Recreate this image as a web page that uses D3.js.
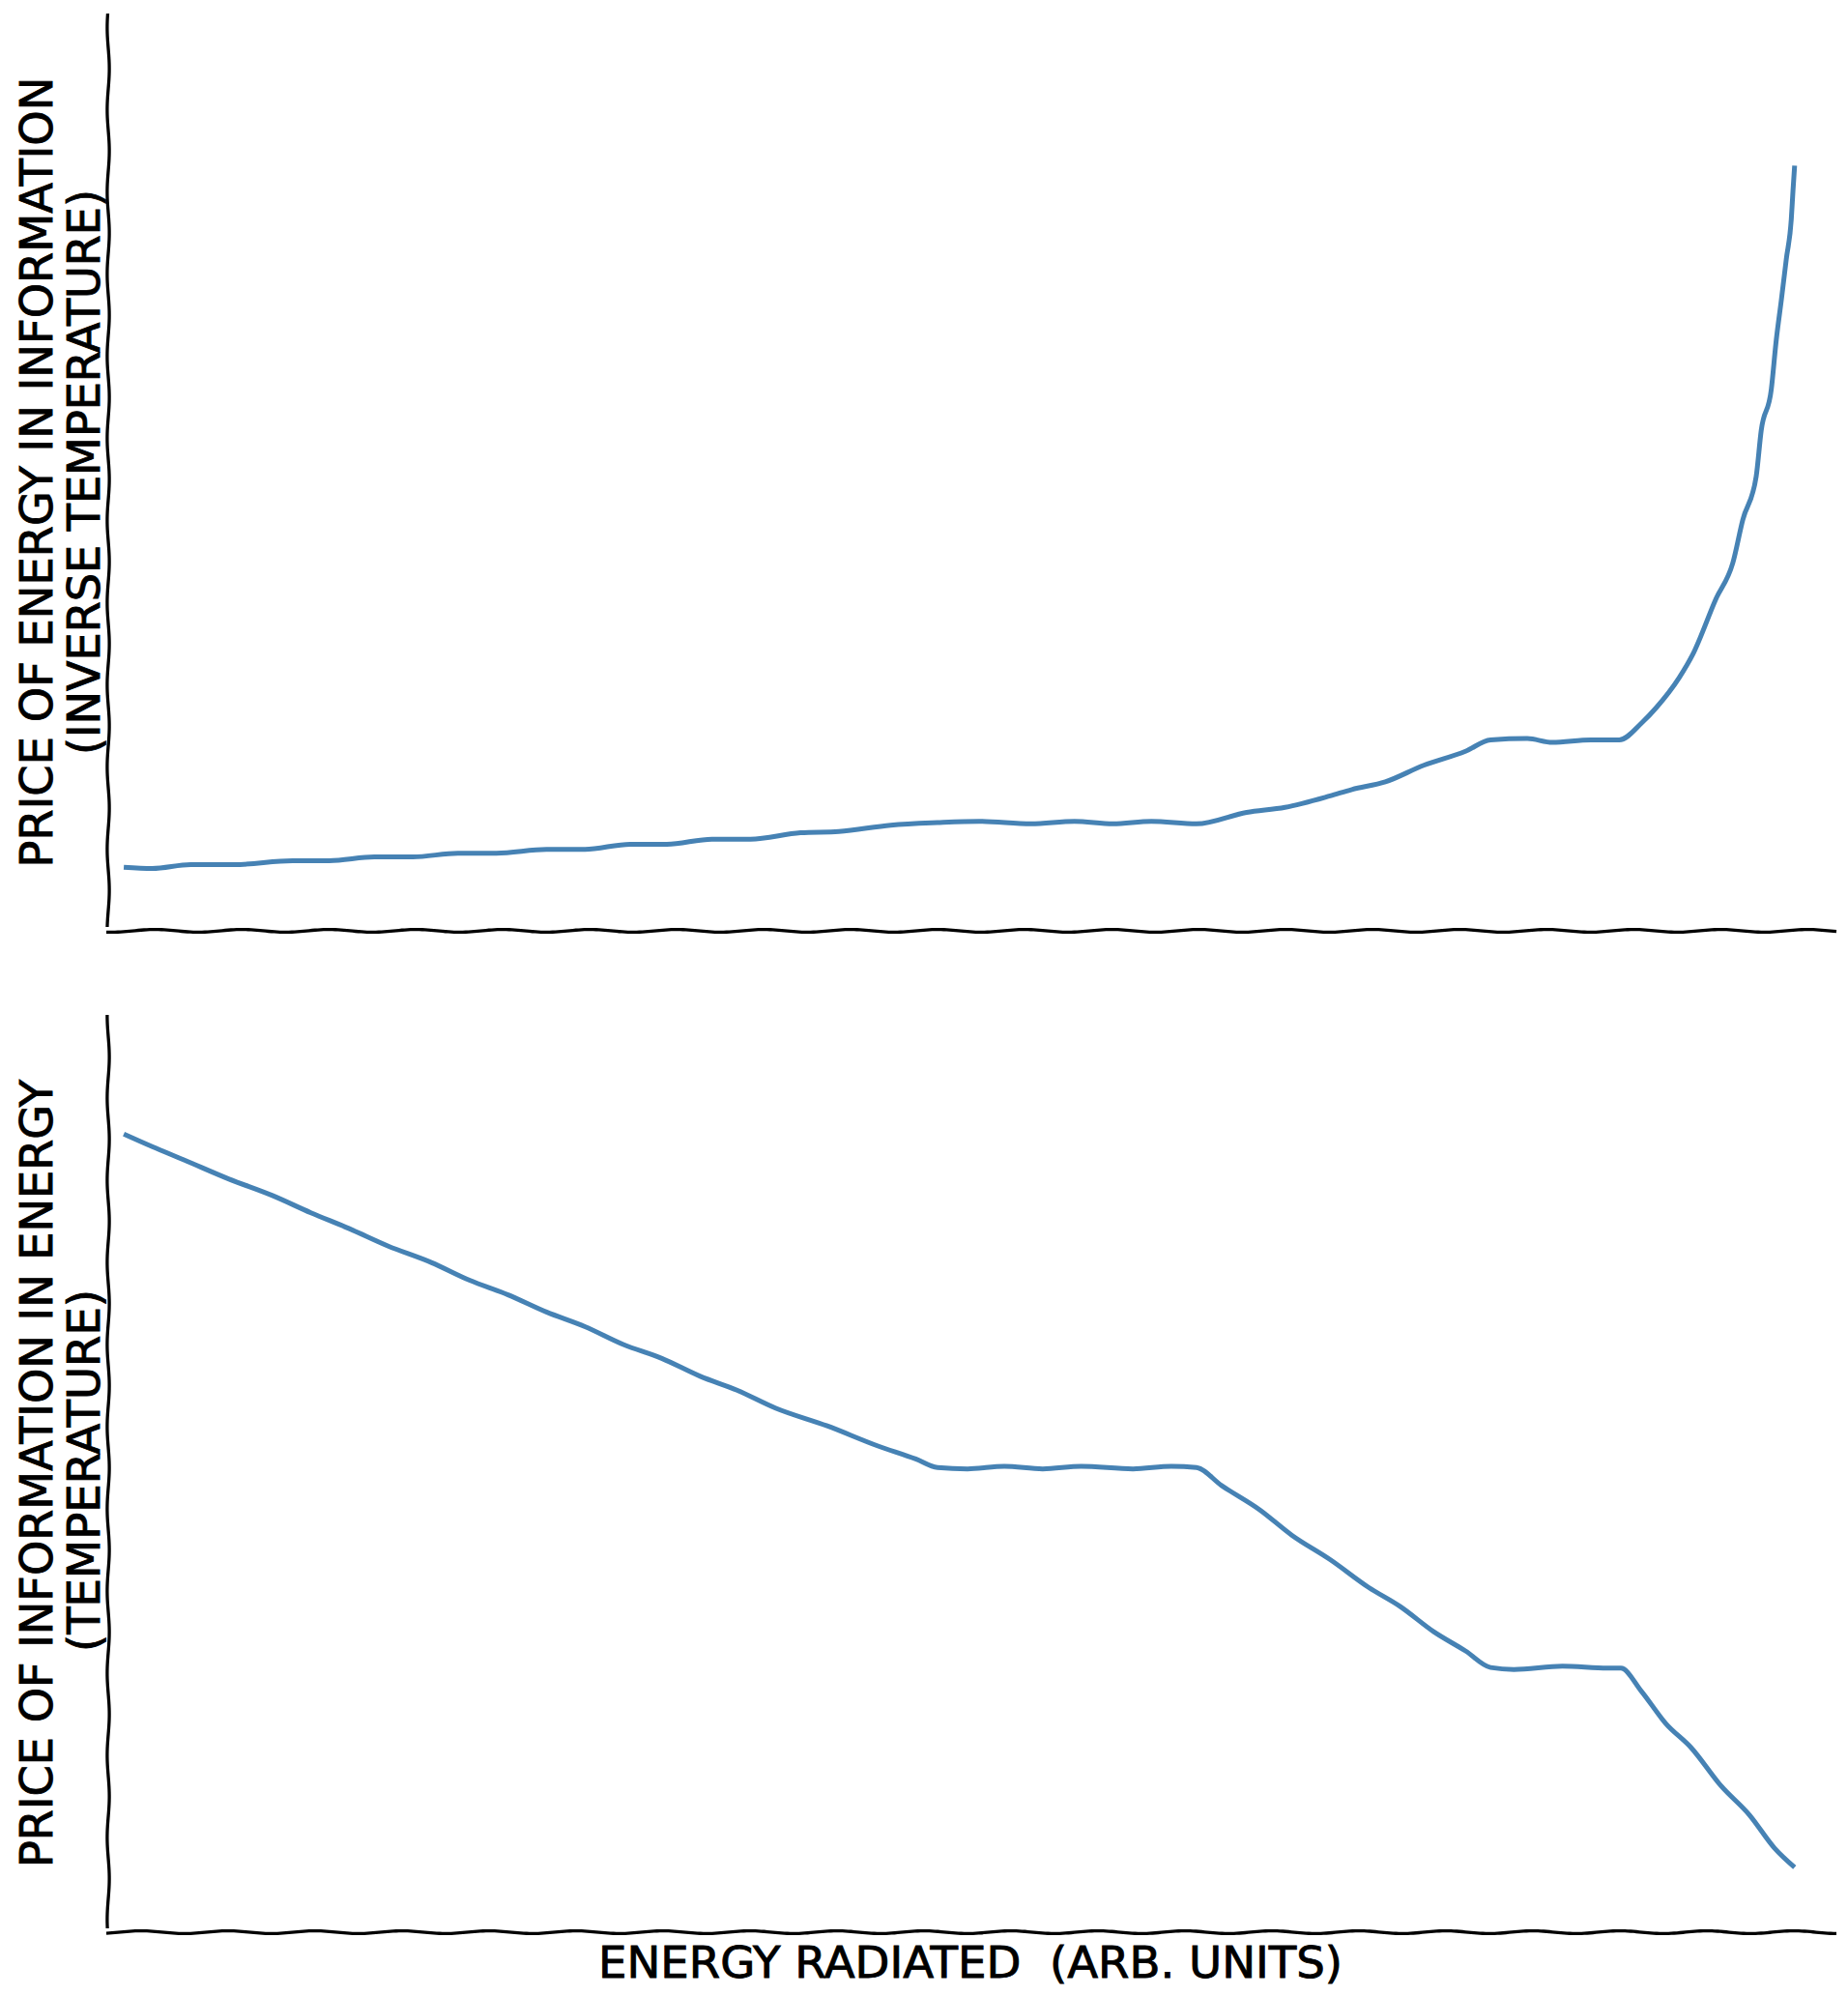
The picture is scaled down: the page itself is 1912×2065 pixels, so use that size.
<!DOCTYPE html>
<html>
<head>
<meta charset="utf-8">
<script src="https://cdn.jsdelivr.net/npm/d3@7"></script>
<style>
  body { margin: 0; background: #ffffff; }
  text { font-family: "DejaVu Sans", "Liberation Sans", sans-serif; fill: #000; stroke: #000; stroke-width: 0.9px; }
</style>
</head>
<body>
<svg id="chart" width="1912" height="2065"></svg>
<script>
// ---------- DATA ----------
// Energy radiated (arbitrary units) for the upper panel
const energyTop = [0, 1.7, 4.0, 6.6, 10.1, 12.3, 15.0, 17.3, 20.0, 22.3, 25.3, 27.6, 30.3, 32.5, 35.2, 37.5,
  40.5, 42.8, 45.9, 48.7, 51.2, 54.3, 56.9, 59.2, 61.5, 64.2, 67.2, 69.5, 72.2, 73.5, 75.5, 77.8, 80.3, 81.8,
  84.0, 85.5, 87.8, 89.5, 90.9, 91.7, 93.1, 93.9, 95.3, 96.3, 96.9, 97.7, 98.0, 98.6, 98.9, 99.2, 99.5,
  99.8, 99.9, 100];
// Price of energy in information (inverse temperature)
const inverseTemperature = [1.00, 0.98, 1.04, 1.04, 1.10, 1.10, 1.16, 1.16, 1.22, 1.22, 1.28, 1.28, 1.36, 1.36,
  1.44, 1.44, 1.54, 1.56, 1.66, 1.70, 1.72, 1.68, 1.72, 1.68, 1.72, 1.68, 1.86, 1.94, 2.12, 2.22, 2.34, 2.60,
  2.82, 3.00, 3.02, 2.96, 3.00, 3.00, 3.28, 3.50, 3.98, 4.34, 5.22, 5.78, 6.46, 7.14, 7.86, 8.50, 9.28, 9.90,
  10.55, 11.18, 11.62, 12.02];

// Energy radiated (arbitrary units) for the lower panel
const energyBottom = [0, 1.7, 3.6, 6.3, 8.9, 11.2, 13.5, 15.8, 18.4, 20.7, 23.0, 25.3, 27.6, 29.9, 32.2, 34.5,
  36.7, 39.0, 42.1, 45.1, 47.4, 48.7, 50.5, 52.7, 55.0, 57.3, 60.4, 62.7, 64.2, 65.7, 68.0, 69.9, 72.2, 74.5,
  76.4, 78.4, 80.3, 81.8, 83.2, 86.1, 88.8, 89.6, 90.8, 92.3, 93.8, 95.6, 97.3, 98.8, 100];
// Price of information in energy (temperature)
const temperature = [12.06, 11.87, 11.67, 11.38, 11.13, 10.87, 10.63, 10.37, 10.12, 9.85, 9.63, 9.37, 9.15,
  8.88, 8.67, 8.40, 8.19, 7.92, 7.65, 7.35, 7.15, 7.02, 7.00, 7.04, 7.00, 7.04, 7.00, 7.04, 7.02, 6.75, 6.38,
  6.00, 5.63, 5.21, 4.92, 4.54, 4.25, 4.00, 3.97, 4.02, 3.99, 3.99, 3.65, 3.15, 2.79, 2.21, 1.77, 1.27, 0.98];

const xDomain = [-0.93, 102.5];
const topYDomain = [0, 14.41];
const bottomYDomain = [0, 13.86];

const topLabelLines = ["PRICE OF ENERGY IN INFORMATION", "(INVERSE TEMPERATURE)"];
const bottomLabelLines = ["PRICE OF INFORMATION IN ENERGY", "(TEMPERATURE)"];
const xAxisLabel = "ENERGY RADIATED  (ARB. UNITS)";

// ---------- LAYOUT ----------
const svg = d3.select("#chart");
svg.append("rect").attr("width", 1912).attr("height", 2065).attr("fill", "#fff");

const left = 112, right = 1900;
const panels = [
  { top: 14, bottom: 963, xs: energyTop, ys: inverseTemperature, domain: topYDomain,
    labels: topLabelLines, lens: [818, 585] },
  { top: 1050, bottom: 1999, xs: energyBottom, ys: temperature, domain: bottomYDomain,
    labels: bottomLabelLines, lens: [815, 375] }
];

const lineColor = "#4682b4";

// hand-drawn wobble for axis spines (style only)
function wobblyPath(x0, y0, x1, y1, amp, period, phase) {
  const len = Math.hypot(x1 - x0, y1 - y0);
  const n = Math.ceil(len / 3);
  const dx = (x1 - x0) / len, dy = (y1 - y0) / len;
  const nx = -dy, ny = dx;
  const pts = d3.range(n + 1).map(i => {
    const t = (i / n) * len;
    const o = amp * Math.sin(2 * Math.PI * t / period + phase);
    return [x0 + dx * t + nx * o, y0 + dy * t + ny * o];
  });
  return d3.line()(pts);
}

const x = d3.scaleLinear().domain(xDomain).range([left, right]);

panels.forEach((p, i) => {
  const y = d3.scaleLinear().domain(p.domain).range([p.bottom, p.top]);
  const g = svg.append("g");

  // spines
  g.append("path")
    .attr("d", wobblyPath(x.range()[0], y.range()[1], x.range()[0], y.range()[0] - 4, 1.1, 85, 0.5 + i))
    .attr("fill", "none").attr("stroke", "#000").attr("stroke-width", 3.3).attr("stroke-linecap", "butt");
  g.append("path")
    .attr("d", wobblyPath(x.range()[0] - 2, y.range()[0], x.range()[1], y.range()[0], 1.4, 90, 1.2 + i))
    .attr("fill", "none").attr("stroke", "#000").attr("stroke-width", 3.3).attr("stroke-linecap", "butt");

  // data line
  const pts = p.xs.map((v, k) => [v, p.ys[k]]);
  g.append("path")
    .datum(pts)
    .attr("d", d3.line().x(d => x(d[0])).y(d => y(d[1])).curve(d3.curveMonotoneX))
    .attr("fill", "none")
    .attr("stroke", lineColor)
    .attr("stroke-width", 5)
    .attr("stroke-linejoin", "round")
    .attr("stroke-linecap", "butt");

  // y labels (rotated)
  const cy = (p.top + p.bottom) / 2;
  const baseX = [54, 103];
  p.labels.forEach((t, k) => {
    g.append("text")
      .attr("transform", `translate(${baseX[k]},${cy + (k === 1 && i === 1 ? -3 : 0)}) rotate(-90)`)
      .attr("text-anchor", "middle")
      .attr("font-size", 46)
      .attr("textLength", p.lens[k])
      .attr("lengthAdjust", "spacingAndGlyphs")
      .text(t);
  });
});

// x label
svg.append("text")
  .attr("x", (left + right) / 2 - 2)
  .attr("y", 2046)
  .attr("text-anchor", "middle")
  .attr("font-size", 45)
  .attr("textLength", 770)
  .attr("lengthAdjust", "spacingAndGlyphs")
  .style("white-space", "pre")
  .text(xAxisLabel);
</script>
</body>
</html>
